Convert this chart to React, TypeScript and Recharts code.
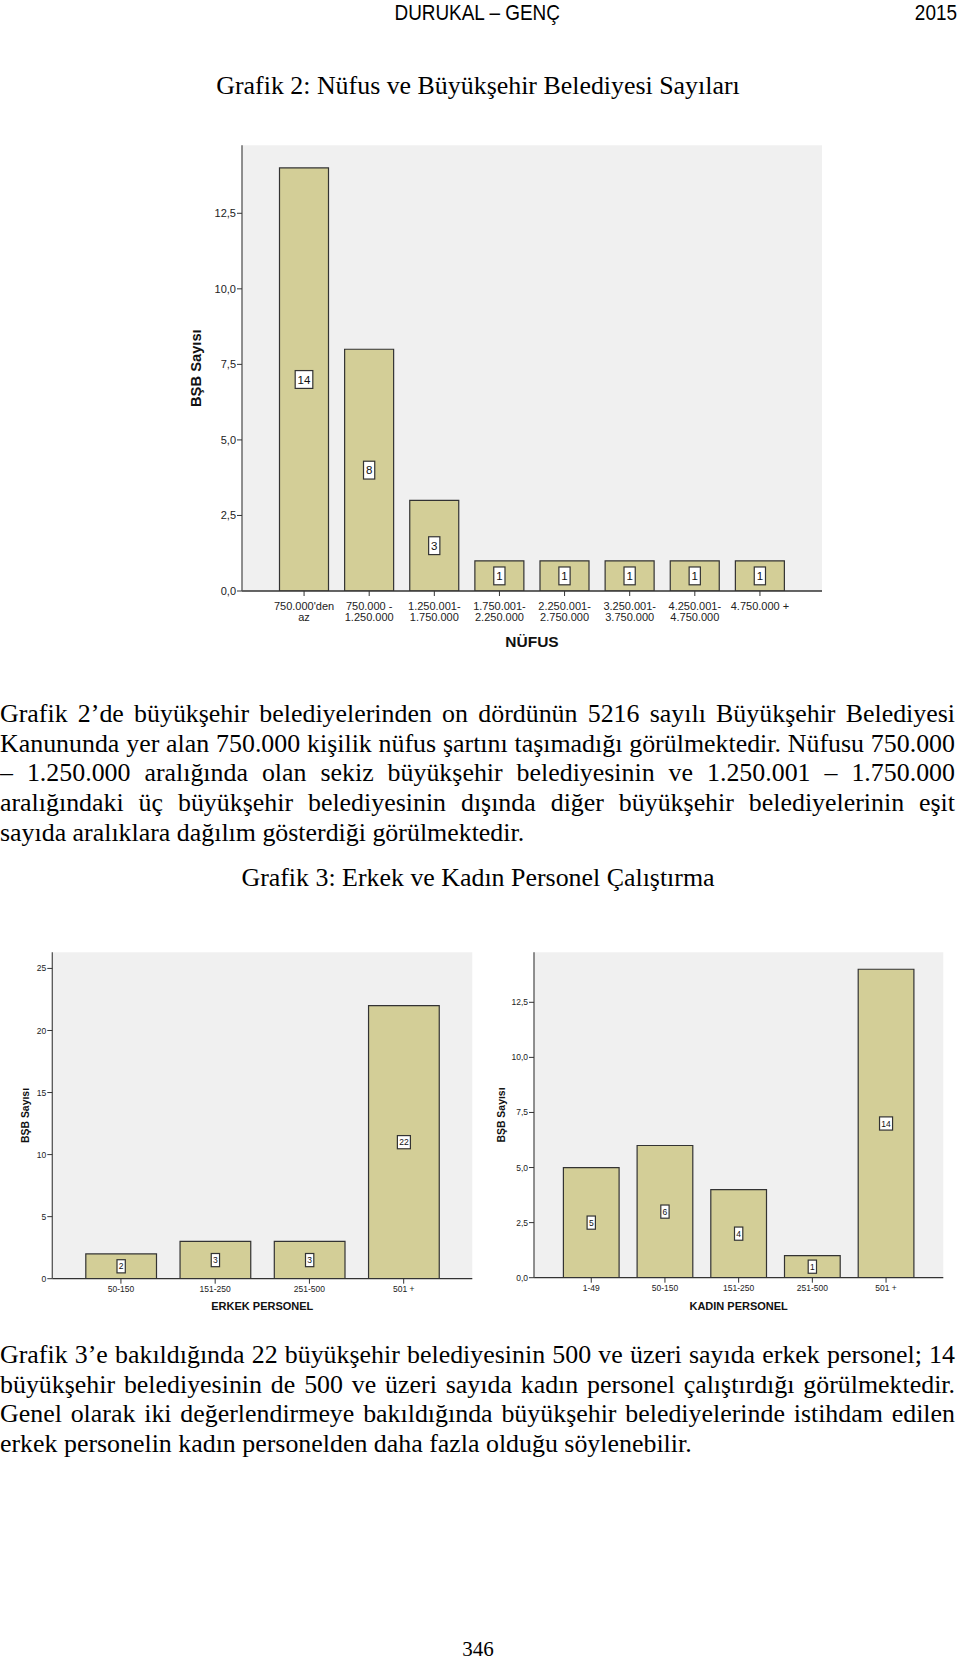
import React from "react";
import { Bar, BarChart, CartesianGrid, Label, LabelList, XAxis, YAxis } from "recharts";

// Grafik 2
const nufusCategories = [
  "750.000'den\naz",
  "750.000 -\n1.250.000",
  "1.250.001-\n1.750.000",
  "1.750.001-\n2.250.000",
  "2.250.001-\n2.750.000",
  "3.250.001-\n3.750.000",
  "4.250.001-\n4.750.000",
  "4.750.000 +",
];
const nufusCounts = [14, 8, 3, 1, 1, 1, 1, 1];
const nufusTicks = [0, 2.5, 5, 7.5, 10, 12.5];

// Grafik 3
const erkekCategories = ["50-150", "151-250", "251-500", "501 +"];
const erkekCounts = [2, 3, 3, 22];
const erkekTicks = [0, 5, 10, 15, 20, 25];

const kadinCategories = ["1-49", "50-150", "151-250", "251-500", "501 +"];
const kadinCounts = [5, 6, 4, 1, 14];
const kadinTicks = [0, 2.5, 5, 7.5, 10, 12.5];

const BAR_FILL = "#D3CE97";
const PLOT_BG = "#F0F0F0";
const SANS = "'Liberation Sans', Arial, sans-serif";
const SERIF = "'Liberation Serif', 'Times New Roman', serif";
const BODY_SIZE = 25.9;

const comma1 = (v: number) => v.toFixed(1).replace(".", ",");
const plain = (v: number) => String(v);

type Rect = { x0: number; x1: number; y0: number; y1: number };

function SpssBar({
  categories,
  counts,
  ticks,
  domainMax,
  fmt,
  box,
  plot,
  yAxisWidth,
  yTitleOffset,
  barSize,
  pad,
  font,
  titleFont,
  labelFont,
  xTitle,
  xTickBase,
  xTitleBase,
}: {
  categories: string[];
  counts: number[];
  ticks: number[];
  domainMax: number;
  fmt: (v: number) => string;
  box: { left: number; top: number; width: number; height: number };
  plot: Rect;
  yAxisWidth: number;
  yTitleOffset: number;
  barSize: number;
  pad: number;
  font: number;
  titleFont: number;
  labelFont: number;
  xTitle: string;
  xTickBase: number;
  xTitleBase: number;
}) {
  const data = categories.map((c, i) => ({ name: c, value: counts[i] }));
  const xAxisHeight = 60;
  const margin = {
    top: plot.y0 - box.top,
    right: box.left + box.width - plot.x1,
    left: plot.x0 - box.left - yAxisWidth,
    bottom: box.top + box.height - plot.y1 - xAxisHeight,
  };

  const renderXTick = (props: any) => {
    const { x, y, payload } = props;
    const lines = String(payload.value).split("\n");
    return (
      <g transform={`translate(${x},${y})`}>
        <text textAnchor="middle" fontSize={font} fill="#222" fontFamily={SANS}>
          {lines.map((l, i) => (
            <tspan key={i} x={0} y={xTickBase + i * font * 1.06}>
              {l}
            </tspan>
          ))}
        </text>
      </g>
    );
  };

  const renderValueBox = (props: any) => {
    const { x, y, width, height, value } = props;
    const cx = x + width / 2;
    const cy = y + height / 2;
    const tw = String(value).length * labelFont * 0.556 + labelFont * 0.42;
    const th = labelFont * 1.55;
    return (
      <g>
        <rect x={cx - tw / 2} y={cy - th / 2} width={tw} height={th} fill="#fff" stroke="#333" strokeWidth={1.2} />
        <text x={cx} y={cy + labelFont * 0.36} textAnchor="middle" fontSize={labelFont} fill="#111" fontFamily={SANS}>
          {value}
        </text>
      </g>
    );
  };

  return (
    <div style={{ position: "absolute", left: box.left, top: box.top }}>
      <BarChart width={box.width} height={box.height} data={data} margin={margin} barCategoryGap={0}>
        <CartesianGrid horizontal={false} vertical={false} fill={PLOT_BG} fillOpacity={1} />
        <XAxis
          dataKey="name"
          interval={0}
          height={xAxisHeight}
          padding={{ left: pad, right: pad }}
          tickSize={5}
          tickMargin={2}
          tickLine={{ stroke: "#333" }}
          axisLine={{ stroke: "#333", strokeWidth: 1.3 }}
          tick={renderXTick}
        >
          <Label
            content={(p: any) => {
              const vb = p.viewBox;
              return (
                <text
                  x={vb.x + vb.width / 2}
                  y={vb.y + xTitleBase}
                  textAnchor="middle"
                  fontSize={titleFont}
                  fontWeight="bold"
                  fill="#111"
                  fontFamily={SANS}
                >
                  {xTitle}
                </text>
              );
            }}
          />
        </XAxis>
        <XAxis xAxisId="frameTop" orientation="top" dataKey="name" height={0} tick={false} tickLine={false} axisLine={{ stroke: "#777", strokeWidth: 1.3 }} />
        <YAxis
          domain={[0, domainMax]}
          ticks={ticks}
          tickFormatter={fmt}
          width={yAxisWidth}
          tickSize={5}
          tickMargin={1}
          tickLine={{ stroke: "#333" }}
          axisLine={{ stroke: "#555", strokeWidth: 1.3 }}
          tick={{ fontSize: font, fill: "#222", fontFamily: SANS }}
          allowDataOverflow
        >
          <Label
            content={(p: any) => {
              const vb = p.viewBox;
              const tx = vb.x + yTitleOffset;
              const ty = vb.y + vb.height / 2;
              return (
                <text
                  x={tx}
                  y={ty}
                  transform={`rotate(-90, ${tx}, ${ty})`}
                  textAnchor="middle"
                  dominantBaseline="central"
                  fontSize={titleFont * 0.95}
                  fontWeight="bold"
                  fill="#111"
                  fontFamily={SANS}
                >
                  BŞB Sayısı
                </text>
              );
            }}
          />
        </YAxis>
        <YAxis yAxisId="frameRight" orientation="right" width={0} domain={[0, domainMax]} tick={false} tickLine={false} axisLine={{ stroke: "#777", strokeWidth: 1.3 }} />
        <Bar dataKey="value" fill={BAR_FILL} stroke="#333" strokeWidth={1.2} barSize={barSize} isAnimationActive={false}>
          <LabelList dataKey="value" content={renderValueBox} />
        </Bar>
      </BarChart>
    </div>
  );
}

const textLine = (top: number, text: string, justify: boolean) => (
  <div
    key={top}
    style={{
      position: "absolute",
      left: 0,
      top,
      width: 955,
      fontFamily: SERIF,
      fontSize: BODY_SIZE,
      lineHeight: "30px",
      textAlign: justify ? "justify" : "left",
      textAlignLast: justify ? "justify" : "left",
      whiteSpace: "nowrap",
      color: "#000",
    } as React.CSSProperties}
  >
    {text}
  </div>
);

const para1 = [
  "Grafik 2’de büyükşehir belediyelerinden on dördünün 5216 sayılı Büyükşehir Belediyesi",
  "Kanununda yer alan 750.000 kişilik nüfus şartını taşımadığı görülmektedir. Nüfusu 750.000",
  "– 1.250.000 aralığında olan sekiz büyükşehir belediyesinin ve 1.250.001 – 1.750.000",
  "aralığındaki üç büyükşehir belediyesinin dışında diğer büyükşehir belediyelerinin eşit",
  "sayıda aralıklara dağılım gösterdiği görülmektedir.",
];
const para2 = [
  "Grafik 3’e bakıldığında 22 büyükşehir belediyesinin 500 ve üzeri sayıda erkek personel; 14",
  "büyükşehir belediyesinin de 500 ve üzeri sayıda kadın personel çalıştırdığı görülmektedir.",
  "Genel olarak iki değerlendirmeye bakıldığında büyükşehir belediyelerinde istihdam edilen",
  "erkek personelin kadın personelden daha fazla olduğu söylenebilir.",
];

const narrow: React.CSSProperties = {
  display: "inline-block",
  fontFamily: SANS,
  fontSize: 22,
  lineHeight: "26px",
  transform: "scaleX(0.86)",
};

export default function App() {
  return (
    <div style={{ position: "absolute", left: 0, top: 0, width: 960, height: 1661, background: "#fff", overflow: "hidden" }}>
      <div style={{ position: "absolute", left: 0, width: 955, top: 0, textAlign: "center" }}>
        <span style={{ ...narrow, transformOrigin: "center" }}>DURUKAL – GENÇ</span>
      </div>
      <div style={{ position: "absolute", right: 3, top: 0 }}>
        <span style={{ ...narrow, transformOrigin: "right" }}>2015</span>
      </div>
      <div style={{ position: "absolute", left: 0, width: 956, top: 71, textAlign: "center", fontFamily: SERIF, fontSize: BODY_SIZE, lineHeight: "30px" }}>
        Grafik 2: Nüfus ve Büyükşehir Belediyesi Sayıları
      </div>

      <SpssBar
        categories={nufusCategories}
        counts={nufusCounts}
        ticks={nufusTicks}
        domainMax={14.75}
        fmt={comma1}
        box={{ left: 150, top: 130, width: 700, height: 540 }}
        plot={{ x0: 242, x1: 822, y0: 145.3, y1: 591 }}
        yAxisWidth={70}
        yTitleOffset={24}
        barSize={49}
        pad={29.5}
        font={11}
        titleFont={15.5}
        labelFont={11.5}
        xTitle="NÜFUS"
        xTickBase={11.7}
        xTitleBase={55.6}
      />

      {para1.map((t, i) => textLine(699 + i * 29.7, t, i < para1.length - 1))}

      <div style={{ position: "absolute", left: 0, width: 956, top: 863, textAlign: "center", fontFamily: SERIF, fontSize: BODY_SIZE, lineHeight: "30px" }}>
        Grafik 3: Erkek ve Kadın Personel Çalıştırma
      </div>

      <SpssBar
        categories={erkekCategories}
        counts={erkekCounts}
        ticks={erkekTicks}
        domainMax={26.3}
        fmt={plain}
        box={{ left: 0, top: 930, width: 480, height: 400 }}
        plot={{ x0: 52.3, x1: 472.3, y0: 952.3, y1: 1278.7 }}
        yAxisWidth={40}
        yTitleOffset={13}
        barSize={70.7}
        pad={21.5}
        font={8.5}
        titleFont={11}
        labelFont={8.5}
        xTitle="ERKEK PERSONEL"
        xTickBase={6.3}
        xTitleBase={31.3}
      />

      <SpssBar
        categories={kadinCategories}
        counts={kadinCounts}
        ticks={kadinTicks}
        domainMax={14.77}
        fmt={comma1}
        box={{ left: 480, top: 930, width: 480, height: 400 }}
        plot={{ x0: 534, x1: 943.3, y0: 952.3, y1: 1277.7 }}
        yAxisWidth={40}
        yTitleOffset={7}
        barSize={55.7}
        pad={20.4}
        font={8.5}
        titleFont={11}
        labelFont={8.5}
        xTitle="KADIN PERSONEL"
        xTickBase={6.6}
        xTitleBase={32}
      />

      {para2.map((t, i) => textLine(1340 + i * 29.7, t, i < para2.length - 1))}

      <div style={{ position: "absolute", left: 0, width: 956, top: 1636, textAlign: "center", fontFamily: SERIF, fontSize: 21, lineHeight: "26px" }}>
        346
      </div>
    </div>
  );
}
